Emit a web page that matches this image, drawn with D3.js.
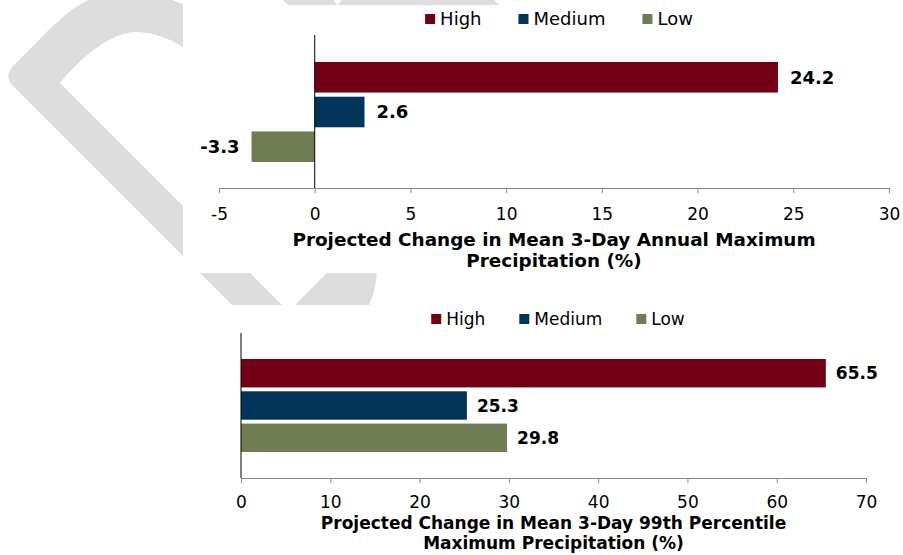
<!DOCTYPE html>
<html>
<head>
<meta charset="utf-8">
<script src="https://cdn.jsdelivr.net/npm/d3@7"></script>
<style>
  html, body { margin: 0; padding: 0; background: #ffffff; }
  svg { display: block; }
</style>
</head>
<body>
<svg id="chart" width="903" height="555"></svg>
<script>
// ---- Data ----
const series = ["High", "Medium", "Low"];
const seriesColors = ["#730014", "#01365a", "#707c53"];

const annualMaxChange = [24.2, 2.6, -3.3];
const annualTicks = [-5, 0, 5, 10, 15, 20, 25, 30];
const annualTitle = ["Projected Change in Mean 3-Day Annual Maximum", "Precipitation (%)"];

const percentile99Change = [65.5, 25.3, 29.8];
const percentileTicks = [0, 10, 20, 30, 40, 50, 60, 70];
const percentileTitle = ["Projected Change in Mean 3-Day 99th Percentile", "Maximum Precipitation (%)"];

// ---- Background emblem (light grey, partly covered by the chart panels) ----
const emblemPieces = [
  "M88,0 L172,0 L183,4 L183,47 C168,38 152,32 135,32 C110,33 80,58 60,83 L183,206 L183,256 L14,87 Q3,77 13,66 L40,39 C58,20 72,8 88,0 Z",
  "M283,0 L494,0 L499,5 L288,5 Z",
  "M200,273 L250,273 L282,305 L232,305 Z",
  "M327,273 L377,273 Q375,292 369,305 L295,305 Z"
];
const emblemCuts = ["M333,0 L342,0 L337.5,5 Z"];

const FONT = "'DejaVu Sans', Verdana, sans-serif";
// plain hyphen for negative numbers
const locale = d3.formatLocale({ decimal: ".", thousands: ",", grouping: [3], currency: ["", ""], minus: "-" });
const fmtInt = locale.format("d");
const fmtOne = locale.format(".1f");

const svg = d3.select("#chart");

const emblem = svg.append("g").attr("class", "emblem");
emblem.selectAll("path.piece").data(emblemPieces).join("path")
  .attr("class", "piece").attr("d", d => d).attr("fill", "#dddddd");
emblem.selectAll("path.cut").data(emblemCuts).join("path")
  .attr("class", "cut").attr("d", d => d).attr("fill", "#ffffff");

// ---- One horizontal clustered bar panel ----
function drawPanel(cfg) {
  const g = svg.append("g").attr("class", "panel");
  const x = d3.scaleLinear().domain(cfg.domain).range(cfg.xRange);
  const y = d3.scaleBand().domain(series).range(cfg.barRange).paddingInner(cfg.barGap);
  const rows = series.map((s, i) => ({ name: s, value: cfg.values[i], color: seriesColors[i] }));

  // value axis
  const axis = d3.axisBottom(x).tickValues(cfg.ticks).tickSize(5).tickSizeOuter(0)
    .tickPadding(cfg.tickPad).tickFormat(fmtInt);
  const ax = g.append("g").attr("transform", `translate(0,${cfg.axisY})`).call(axis);
  ax.select(".domain").attr("stroke", "#868686");
  ax.selectAll(".tick line").attr("stroke", "#868686");
  ax.selectAll(".tick text").attr("fill", "#000").style("font-family", FONT)
    .style("font-size", cfg.tickFont + "px");

  // bars
  g.selectAll("rect.bar").data(rows).join("rect")
    .attr("class", "bar")
    .attr("x", d => x(Math.min(0, d.value)))
    .attr("width", d => Math.abs(x(d.value) - x(0)))
    .attr("y", d => y(d.name))
    .attr("height", y.bandwidth())
    .attr("fill", d => d.color);

  // category axis at zero
  g.append("line")
    .attr("x1", x(0)).attr("x2", x(0))
    .attr("y1", cfg.plotTop).attr("y2", cfg.axisY)
    .attr("stroke", "#000").attr("stroke-width", 1);

  // value labels
  g.selectAll("text.val").data(rows).join("text")
    .attr("class", "val")
    .attr("x", d => d.value >= 0 ? x(d.value) + cfg.labelGap : x(d.value) - cfg.labelGap)
    .attr("y", d => y(d.name) + y.bandwidth() / 2)
    .attr("dy", "0.36em")
    .attr("text-anchor", d => d.value >= 0 ? "start" : "end")
    .style("font-family", FONT).style("font-weight", "bold")
    .style("font-size", cfg.labelFont + "px").attr("fill", "#000")
    .text(d => fmtOne(d.value));

  // axis title
  const titleX = (cfg.xRange[0] + cfg.xRange[1]) / 2;
  g.selectAll("text.title").data(cfg.title).join("text")
    .attr("class", "title")
    .attr("x", titleX)
    .attr("y", (d, i) => cfg.titleY[i])
    .attr("dy", "0.36em")
    .attr("text-anchor", "middle")
    .style("font-family", FONT).style("font-weight", "bold")
    .style("font-size", cfg.titleFont + "px").attr("fill", "#000")
    .text(d => d);

  // legend
  const lg = g.append("g");
  const items = lg.selectAll("g.item").data(rows).join("g").attr("class", "item");
  items.append("rect").attr("width", 10).attr("height", 10).attr("y", -5)
    .attr("fill", d => d.color);
  items.append("text").attr("x", 15).attr("dy", "0.36em")
    .style("font-family", FONT).style("font-size", cfg.legendFont + "px").attr("fill", "#000")
    .text(d => d.name);
  let cursor = 0;
  items.each(function () {
    const w = 15 + d3.select(this).select("text").node().getComputedTextLength();
    d3.select(this).attr("transform", `translate(${cursor},0)`);
    cursor += w + cfg.legendSpacing;
  });
  const total = cursor - cfg.legendSpacing;
  lg.attr("transform", `translate(${cfg.legendCenter - total / 2},${cfg.legendY})`);
}

drawPanel({
  values: annualMaxChange, domain: [-5, 30], ticks: annualTicks, title: annualTitle,
  xRange: [219, 889], plotTop: 35, axisY: 188, barRange: [62, 162], barGap: 0.12,
  tickPad: 15, tickFont: 17, labelFont: 18, labelGap: 12, titleFont: 18.4, titleY: [239, 260],
  legendY: 19, legendCenter: 559, legendFont: 18, legendSpacing: 37
});

drawPanel({
  values: percentile99Change, domain: [0, 70], ticks: percentileTicks, title: percentileTitle,
  xRange: [241, 866], plotTop: 333, axisY: 478, barRange: [359, 452], barGap: 0.12,
  tickPad: 13, tickFont: 17, labelFont: 17, labelGap: 10, titleFont: 17, titleY: [523, 543],
  legendY: 319, legendCenter: 558, legendFont: 17, legendSpacing: 34
});
</script>
</body>
</html>
